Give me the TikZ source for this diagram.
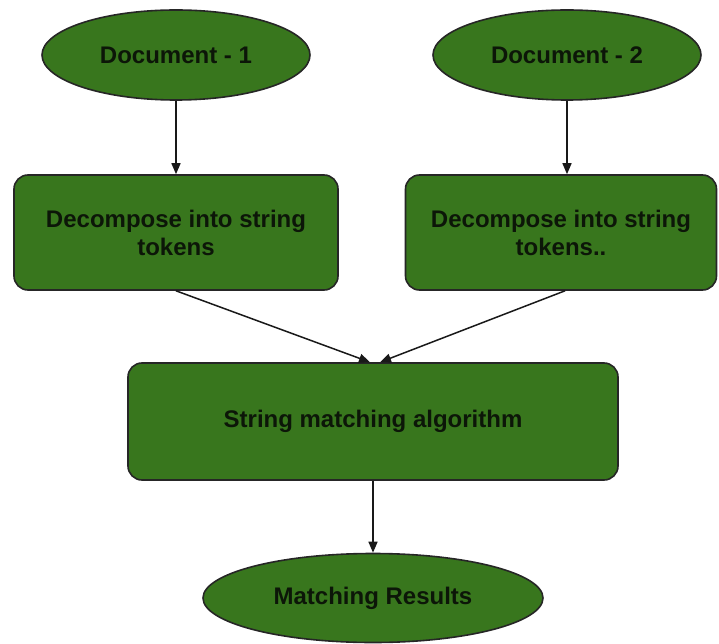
\documentclass[tikz,border=0pt]{standalone}
\usepackage{fontspec}
\setmainfont{Liberation Sans}
\usetikzlibrary{shapes.geometric,arrows.meta}
\definecolor{gfill}{RGB}{56,118,29}
\definecolor{gtext}{RGB}{12,22,8}
\tikzset{
  base/.style={draw=black!85, line width=1.6pt, fill=gfill, text=gtext,
    font=\fontsize{24}{28}\selectfont\bfseries, align=center, inner sep=0pt},
  oval/.style={base, ellipse},
  stepbox/.style={base, rectangle, rounded corners=14pt},
  conn/.style={line width=1.5pt, draw=black!90, -{Triangle[length=11pt,width=9pt]}}
}
\begin{document}
\begin{tikzpicture}[x=1pt,y=-1pt]
\useasboundingbox (0,0) rectangle (719,644);
\node[oval, minimum width=268pt, minimum height=90pt] (d1) at (176,55) {Document - 1};
\node[oval, minimum width=268pt, minimum height=90pt] (d2) at (567,55) {Document - 2};
\node[stepbox, minimum width=324pt, minimum height=115pt] (t1) at (176,232.5) {Decompose into string\\tokens};
\node[stepbox, minimum width=311pt, minimum height=115pt] (t2) at (561,232.5) {Decompose into string\\tokens..};
\node[stepbox, minimum width=490pt, minimum height=117pt] (sm) at (373,421.5) {String matching algorithm};
\node[oval, minimum width=340pt, minimum height=89pt] (mr) at (373,598) {Matching Results};
\draw[conn] (d1) -- (d1 |- t1.north);
\draw[conn] (d2) -- (d2 |- t2.north);
\draw[conn] (t1.south) -- ([xshift=-3pt]sm.north);
\draw[conn] ([xshift=4pt]t2.south) -- ([xshift=7pt]sm.north);
\draw[conn] (sm) -- (mr);
\end{tikzpicture}
\end{document}
